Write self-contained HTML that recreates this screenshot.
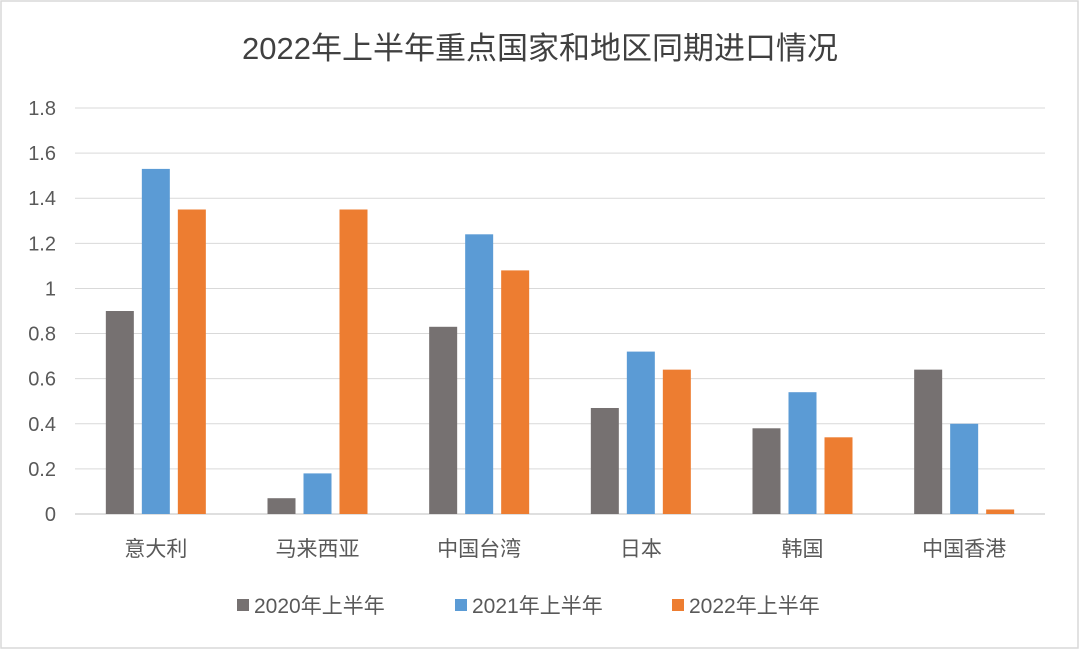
<!DOCTYPE html>
<html><head><meta charset="utf-8"><style>
body{margin:0;background:#fff;font-family:"Liberation Sans","Noto Sans CJK SC",sans-serif;}
svg text{font-family:"Liberation Sans","Noto Sans CJK SC",sans-serif;}
</style></head><body>
<svg id="chart" width="1080" height="650" xmlns="http://www.w3.org/2000/svg">
<rect x="1" y="1" width="1077" height="647" fill="#fff" stroke="#d9d9d9" stroke-width="1.5"/>
<text x="540" y="59" text-anchor="middle" font-size="31" fill="#404040">2022年上半年重点国家和地区同期进口情况</text>
<g id="grid"></g><g id="bars"></g><g id="labels"></g><g id="legend"></g>
</svg>
<script>
const categories=["意大利","马来西亚","中国台湾","日本","韩国","中国香港"];
const s2020=[0.90,0.07,0.83,0.47,0.38,0.64];
const s2021=[1.53,0.18,1.24,0.72,0.54,0.40];
const s2022=[1.35,1.35,1.08,0.64,0.34,0.02];
const seriesNames=["2020年上半年","2021年上半年","2022年上半年"];
const yTicks=[0,0.2,0.4,0.6,0.8,1,1.2,1.4,1.6,1.8];
const NS="http://www.w3.org/2000/svg";
const colors=["#767171","#5B9BD5","#ED7D31"];
const x0=75,x1=1045,yB=514,yT=108,yMax=1.8;
const y=v=>yB-(v/yMax)*(yB-yT);
const cw=(x1-x0)/categories.length;
const cx=i=>x0+cw*(i+0.5);
function mk(tag,attrs,parent){const e=document.createElementNS(NS,tag);for(const k in attrs)e.setAttribute(k,attrs[k]);parent.appendChild(e);return e;}
const grid=document.getElementById('grid'),bars=document.getElementById('bars'),labels=document.getElementById('labels'),legend=document.getElementById('legend');
yTicks.forEach(t=>{
 const l=mk('line',{x1:x0,x2:x1,y1:y(t),y2:y(t),stroke:t===0?'#bfbfbf':'#d9d9d9','stroke-width':1},grid);
 
 
 const tx=mk('text',{x:56,y:y(t)+7,'text-anchor':'end','font-size':20,fill:'#595959'},labels);
 tx.textContent=String(t);
 
 
});
const series=[s2020,s2021,s2022];
const bw=28,gap=8;
categories.forEach((c,i)=>{
 series.forEach((s,j)=>{
  const bx=cx(i)+(j-1)*(bw+gap)-bw/2;
  const r=mk('rect',{x:bx,y:y(s[i]),width:bw,height:yB-y(s[i]),fill:colors[j]},bars);
  
  
 });
 const t=mk('text',{x:cx(i),y:556,'text-anchor':'middle','font-size':21,fill:'#595959'},labels);
 t.textContent=c;
 
 
});
const lx=[237,455,672];
seriesNames.forEach((n,j)=>{
 const r=mk('rect',{x:lx[j],y:599,width:12,height:12,fill:colors[j]},legend);
 
 
 const t=mk('text',{x:lx[j]+17,y:613,'font-size':21,fill:'#595959'},legend);
 t.textContent=n;
 
 
});
</script>
</body></html>
